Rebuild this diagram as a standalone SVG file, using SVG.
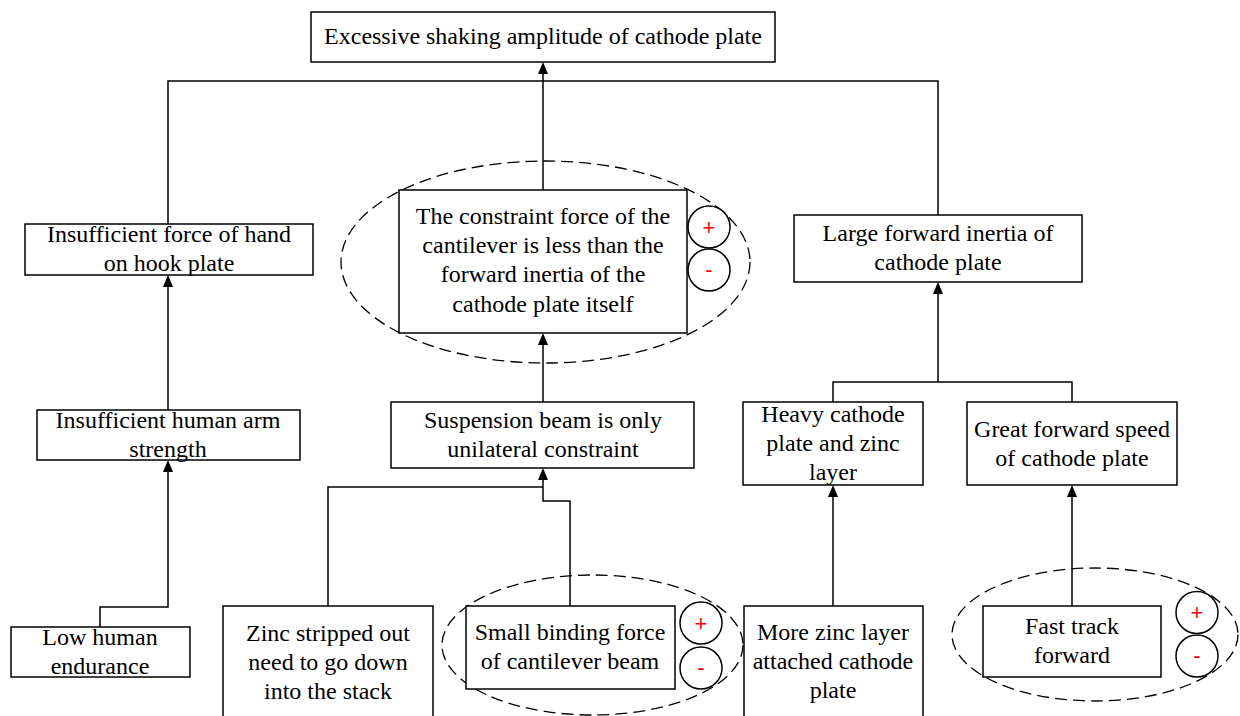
<svg xmlns="http://www.w3.org/2000/svg" width="1240" height="716" viewBox="0 0 1240 716">
<style>
.box{fill:#fff;stroke:#000;stroke-width:1.5}
.t{font-family:"Liberation Serif","Times New Roman",serif;font-size:24px;fill:#000;text-anchor:middle}
.c{fill:none;stroke:#000;stroke-width:1.5}
.el{fill:none;stroke:#000;stroke-width:1.3;stroke-dasharray:12 6}
.sg{fill:#fff;stroke:#000;stroke-width:1.5}
.st{font-family:"Liberation Sans",Arial,sans-serif;font-size:22px;fill:#ff0000;text-anchor:middle}
</style>
<rect width="1240" height="716" fill="#fff"/>
<g id="connectors">
<path class="c" d="M543,190 V64"/>
<path class="c" d="M168,225 V81 H938 V215"/>
<path class="c" d="M168,410 V277"/>
<path class="c" d="M100,627 V607 H168 V462"/>
<path class="c" d="M543,402 V335"/>
<path class="c" d="M328,606 V487 H543"/>
<path class="c" d="M570,606 V501 H543 V470"/>
<path class="c" d="M833,402 V382 H1072 V402"/>
<path class="c" d="M938,382 V284"/>
<path class="c" d="M833,606 V487"/>
<path class="c" d="M1072,606 V487"/>
<path d="M543,62 L548,74 L538,74 Z"/>
<path d="M168,275 L173,287 L163,287 Z"/>
<path d="M168,460 L173,472 L163,472 Z"/>
<path d="M543,333 L548,345 L538,345 Z"/>
<path d="M543,468 L548,480 L538,480 Z"/>
<path d="M938,282 L943,294 L933,294 Z"/>
<path d="M833,485 L838,497 L828,497 Z"/>
<path d="M1072,485 L1077,497 L1067,497 Z"/>
</g>
<g id="n-top">
<rect class="box" x="311" y="12" width="464" height="50"/>
<text class="t" x="543" y="44">Excessive shaking amplitude of cathode plate</text>
</g>
<g id="n-hand">
<rect class="box" x="25" y="224" width="288" height="51"/>
<text class="t" x="169" y="242">Insufficient force of hand</text>
<text class="t" x="169" y="271">on hook plate</text>
</g>
<g id="n-arm">
<rect class="box" x="37" y="410" width="263" height="50"/>
<text class="t" x="168" y="428">Insufficient human arm</text>
<text class="t" x="168" y="457">strength</text>
</g>
<g id="n-endurance">
<rect class="box" x="11" y="627" width="179" height="50"/>
<text class="t" x="100" y="645">Low human</text>
<text class="t" x="100" y="674">endurance</text>
</g>
<g id="n-constraint">
<ellipse class="el" cx="545.5" cy="262" rx="204.5" ry="101"/>
<rect class="box" x="399" y="190" width="288" height="143"/>
<text class="t" x="543" y="224">The constraint force of the</text>
<text class="t" x="543" y="253">cantilever is less than the</text>
<text class="t" x="543" y="282">forward inertia of the</text>
<text class="t" x="543" y="312">cathode plate itself</text>
<circle class="sg" cx="709" cy="227" r="21"/>
<text class="st" x="709" y="235">+</text>
<circle class="sg" cx="709" cy="270" r="21"/>
<text class="st" x="709" y="277">-</text>
</g>
<g id="n-suspension">
<rect class="box" x="391" y="402" width="303" height="66"/>
<text class="t" x="543" y="428">Suspension beam is only</text>
<text class="t" x="543" y="457">unilateral constraint</text>
</g>
<g id="n-zinc-stripped">
<rect class="box" x="223" y="606" width="210" height="116"/>
<text class="t" x="328" y="641">Zinc stripped out</text>
<text class="t" x="328" y="670">need to go down</text>
<text class="t" x="328" y="699">into the stack</text>
</g>
<g id="n-binding">
<ellipse class="el" cx="592.5" cy="645" rx="150.5" ry="70"/>
<rect class="box" x="466" y="606" width="209" height="83"/>
<text class="t" x="570" y="640">Small binding force</text>
<text class="t" x="570" y="669">of cantilever beam</text>
<circle class="sg" cx="701" cy="623" r="21"/>
<text class="st" x="701" y="631">+</text>
<circle class="sg" cx="701" cy="668" r="21"/>
<text class="st" x="701" y="675">-</text>
</g>
<g id="n-inertia">
<rect class="box" x="794" y="215" width="288" height="67"/>
<text class="t" x="938" y="241">Large forward inertia of</text>
<text class="t" x="938" y="270">cathode plate</text>
</g>
<g id="n-heavy">
<rect class="box" x="743" y="402" width="180" height="83"/>
<text class="t" x="833" y="422">Heavy cathode</text>
<text class="t" x="833" y="451">plate and zinc</text>
<text class="t" x="833" y="480">layer</text>
</g>
<g id="n-speed">
<rect class="box" x="967" y="402" width="210" height="83"/>
<text class="t" x="1072" y="437">Great forward speed</text>
<text class="t" x="1072" y="466">of cathode plate</text>
</g>
<g id="n-more-zinc">
<rect class="box" x="744" y="606" width="179" height="116"/>
<text class="t" x="833" y="640">More zinc layer</text>
<text class="t" x="833" y="669">attached cathode</text>
<text class="t" x="833" y="698">plate</text>
</g>
<g id="n-fast">
<ellipse class="el" cx="1095" cy="634.5" rx="143" ry="66.5"/>
<rect class="box" x="983" y="606" width="178" height="71"/>
<text class="t" x="1072" y="634">Fast track</text>
<text class="t" x="1072" y="663">forward</text>
<circle class="sg" cx="1197" cy="612.5" r="21"/>
<text class="st" x="1197" y="620">+</text>
<circle class="sg" cx="1197" cy="656" r="21"/>
<text class="st" x="1197" y="663">-</text>
</g>
</svg>
